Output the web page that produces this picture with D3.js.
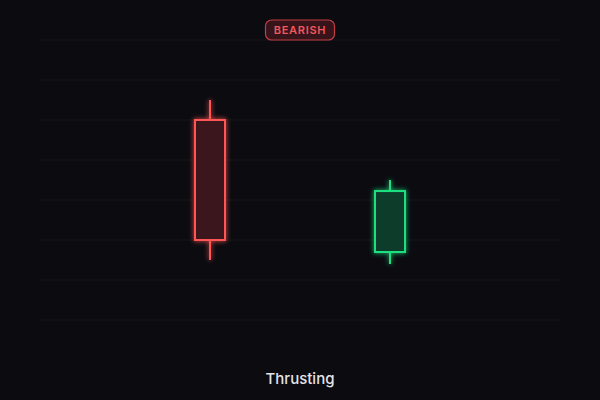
<!DOCTYPE html>
<html>
<head>
<meta charset="utf-8">
<script src="https://cdn.jsdelivr.net/npm/d3@7"></script>
<style>
  html, body { margin: 0; padding: 0; background: #0b0b10; }
  svg { display: block; }
</style>
</head>
<body>
<script>
// candle data (price units)
var labels = ['day1', 'day2'];
var opens  = [75, 33.75];
var highs  = [81.25, 56.25];
var lows   = [31.25, 30];
var closes = [37.5, 52.8];
var gridValues = [100, 87.5, 75, 62.5, 50, 37.5, 25, 12.5];
var patternName = 'Thrusting';
var badgeText = 'BEARISH';

var width = 600;
var height = 400;

var svg = d3.select('body')
  .append('svg')
  .attr('width', width)
  .attr('height', height);

svg.append('rect')
  .attr('width', width)
  .attr('height', height)
  .attr('fill', '#0b0b10');

var defs = svg.append('defs');
var glow = defs.append('filter')
  .attr('id', 'glow')
  .attr('x', '-50%').attr('y', '-50%')
  .attr('width', '200%').attr('height', '200%');
glow.append('feGaussianBlur')
  .attr('in', 'SourceGraphic')
  .attr('stdDeviation', 2.5)
  .attr('result', 'blur');
var merge = glow.append('feMerge');
merge.append('feMergeNode').attr('in', 'blur');
merge.append('feMergeNode').attr('in', 'SourceGraphic');

var xScale = d3.scalePoint()
  .domain(labels)
  .range([210, 390]);

var yScale = d3.scaleLinear()
  .domain([0, 100])
  .range([360, 40]);

// grid lines
svg.append('g')
  .selectAll('line')
  .data(gridValues)
  .enter()
  .append('line')
  .attr('x1', 40)
  .attr('x2', 560)
  .attr('y1', function (d) { return yScale(d); })
  .attr('y2', function (d) { return yScale(d); })
  .attr('stroke', '#17171d')
  .attr('stroke-width', 1);

var data = labels.map(function (l, i) {
  return { label: l, o: opens[i], h: highs[i], l: lows[i], c: closes[i] };
});

var bodyW = 30;
var candles = svg.append('g')
  .selectAll('g')
  .data(data)
  .enter()
  .append('g')
  .attr('filter', 'url(#glow)');

function col(d) { return d.c >= d.o ? '#1fe07f' : '#ff5555'; }
function fillCol(d) { return d.c >= d.o ? 'rgba(31,224,127,0.24)' : 'rgba(255,85,85,0.2)'; }

candles.append('line')
  .attr('x1', function (d) { return xScale(d.label); })
  .attr('x2', function (d) { return xScale(d.label); })
  .attr('y1', function (d) { return yScale(d.h); })
  .attr('y2', function (d) { return yScale(d.l); })
  .attr('stroke', col)
  .attr('stroke-width', 2);

candles.append('rect')
  .attr('x', function (d) { return xScale(d.label) - bodyW / 2; })
  .attr('y', function (d) { return yScale(Math.max(d.o, d.c)); })
  .attr('width', bodyW)
  .attr('height', function (d) { return Math.abs(yScale(d.o) - yScale(d.c)); })
  .attr('fill', '#0b0b10')
  .attr('stroke', 'none');

candles.append('rect')
  .attr('x', function (d) { return xScale(d.label) - bodyW / 2; })
  .attr('y', function (d) { return yScale(Math.max(d.o, d.c)); })
  .attr('width', bodyW)
  .attr('height', function (d) { return Math.abs(yScale(d.o) - yScale(d.c)); })
  .attr('fill', fillCol)
  .attr('stroke', col)
  .attr('stroke-width', 2);

// badge
var badge = svg.append('g');
badge.append('rect')
  .attr('x', 265.5)
  .attr('y', 20)
  .attr('width', 69)
  .attr('height', 20)
  .attr('rx', 6)
  .attr('fill', '#36141a')
  .attr('stroke', '#c23d44')
  .attr('stroke-width', 1.2);
badge.append('text')
  .attr('x', 300)
  .attr('y', 34)
  .attr('text-anchor', 'middle')
  .attr('font-family', 'Inter, sans-serif')
  .attr('font-size', 11)
  .attr('font-weight', 600)
  .attr('letter-spacing', 0.7)
  .attr('fill', '#f0585c')
  .text(badgeText);

// pattern name
svg.append('text')
  .attr('x', 300)
  .attr('y', 384)
  .attr('text-anchor', 'middle')
  .attr('font-family', 'Inter, sans-serif')
  .attr('font-size', 15)
  .attr('font-weight', 500)
  .attr('fill', '#e4e4e8')
  .text(patternName);
</script>
</body>
</html>
